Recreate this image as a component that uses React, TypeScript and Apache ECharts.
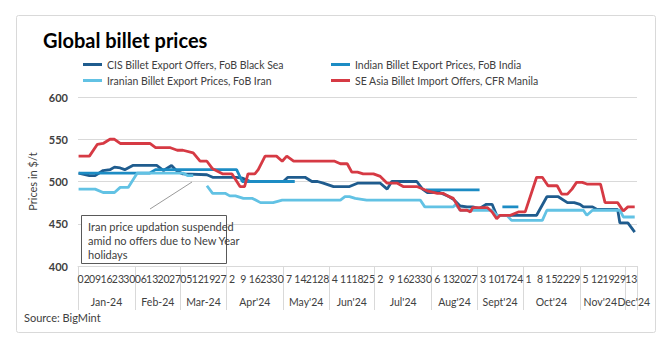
import React, { useEffect, useRef } from 'react';
import * as echarts from 'echarts';

// ---- data ----
const weekLabels = ['02','09','16','23','30','06','13','20','27','05','12','19','27','2','9','16','23','30','7','14','21','28','4','11','18','25','2','9','16','23','30','6','13','20','27','3','10','17','24','1','8','15','22','29','5','12','19','29','13'];
const monthLabels = ['Jan-24','Feb-24','Mar-24',"Apr'24","May'24","Jun'24","Jul'24","Aug'24","Sept'24","Oct'24","Nov'24","Dec'24"];
const monthWeekCounts = [5,4,4,5,4,4,5,4,4,5,4,1];

const yTicks = [400, 450, 500, 550, 600];

const seriesNames = [
  'CIS Billet Export Offers, FoB Black Sea',
  'Indian Billet Export Prices, FoB India',
  'Iranian Billet Export Prices, FoB Iran',
  'SE Asia Billet Import Offers, CFR Manila',
];
const seriesColors = ['#1f5c8e', '#1c8cc4', '#62c2e4', '#d63a44'];

// [week position, price]
const cisData = [[-0.45,510],[0.5,507],[1.0,507],[1.7,513],[2.3,514],[2.7,517],[3.2,516],[3.6,514],[4.3,519],[6.4,519],[7.0,513],[7.7,519],[8.2,512],[8.7,509],[10.8,508],[11.3,505],[13.4,505],[13.9,504],[14.6,500],[17.5,500],[17.9,505],[19.4,505],[20.0,500],[20.5,500],[21.0,498],[21.9,494],[23.3,494],[24.0,498],[26.0,498],[26.6,491],[27.0,500],[29.2,500],[29.7,491],[30.1,487],[31.2,487],[31.9,483],[32.4,479],[33.0,471],[33.6,470],[34.1,470],[34.7,468],[35.3,473],[35.8,473],[36.2,460],[39.7,460],[40.6,482],[41.6,482],[42.4,475],[43.0,475],[43.5,473],[43.8,470],[44.6,470],[45.0,467],[46.8,467],[47.0,451],[47.7,451],[48.3,440]];
const indianData = [[-0.45,510],[5.8,510],[6.3,514],[13.4,514],[13.9,500],[18.5,500],[18.6,null],[30.0,490],[34.7,490],[34.8,null],[36.7,470],[38.1,470]];
const iranData = [[-0.45,491],[1.0,491],[1.7,487],[2.7,487],[3.2,493],[3.9,493],[4.7,510],[8.7,510],[9.1,507],[9.6,507],[9.7,null],[10.8,495],[11.3,486],[12.4,486],[12.8,483],[13.3,483],[14.0,480],[14.8,480],[15.5,475],[16.6,475],[17.4,478],[22.5,478],[22.9,482],[23.3,482],[23.8,480],[24.8,478],[29.5,478],[29.9,470],[32.4,470],[32.6,473],[33.0,466],[35.8,466],[36.2,460],[37.1,460],[37.5,454],[40.2,454],[40.6,466],[43.8,466],[44.1,460],[44.6,466],[47.0,466],[47.3,458],[48.3,458]];
const seAsiaData = [[-0.45,530],[0.5,530],[1.2,544],[1.7,545],[2.3,550],[2.7,550],[3.2,545],[5.8,545],[6.3,540],[7.6,540],[8.2,537],[8.7,537],[9.6,534],[10.2,524],[10.8,524],[11.3,515],[12.2,509],[13.0,509],[13.7,494],[14.1,494],[14.4,509],[15.0,509],[15.3,514],[15.9,530],[16.9,530],[17.4,524],[17.8,530],[18.4,524],[22.0,524],[22.5,521],[23.1,521],[23.5,511],[24.0,511],[24.5,509],[25.4,509],[26.0,506],[26.6,498],[27.5,498],[28.0,494],[29.2,494],[30.1,489],[31.0,486],[31.5,486],[31.9,483],[32.4,480],[33.0,466],[33.6,466],[33.9,464],[34.1,469],[35.4,469],[35.8,464],[36.2,456],[36.5,460],[37.4,460],[38.1,464],[38.7,464],[39.7,505],[40.2,505],[40.7,495],[41.5,495],[41.9,485],[42.4,485],[42.8,491],[43.2,499],[43.7,499],[44.1,497],[45.3,497],[45.7,475],[46.8,475],[47.3,465],[47.7,470],[48.3,470]];
const allData = [cisData, indianData, iranData, seAsiaData];

const titleText = 'Global billet prices';
const yAxisTitle = 'Prices in $/t';
const sourceText = 'Source: BigMint';
const noteText = 'Iran price updation suspended\namid no offers due to New Year\nholidays';

const FONT = "Lato, 'Open Sans', sans-serif";

export default function App() {
  const ref = useRef<HTMLDivElement>(null);
  useEffect(() => {
    if (!ref.current) return;
    const chart = echarts.init(ref.current, undefined, { renderer: 'svg' });

    const nWeeks = weekLabels.length;
    const nHalf = nWeeks * 2;
    const monthCats: string[] = [];
    for (let i = 0; i <= nHalf; i++) monthCats.push(String(i));
    const tickSet = new Set<number>();
    const labelMaps = [new Map<number, string>(), new Map<number, string>()];
    const nMonths = monthLabels.length;
    let s = 0;
    monthWeekCounts.forEach((c, mi) => {
      const e = s + c - 1;
      tickSet.add(2 * s);
      let lbl = monthLabels[mi];
      // last two month labels sit side by side: nudge them apart
      if (mi === nMonths - 2) lbl = lbl + '{sp|}';
      if (mi === nMonths - 1) lbl = '{sp|}' + lbl;
      labelMaps[mi % 2].set(s + e + 1, lbl);
      s = e + 1;
    });
    tickSet.add(nHalf);

    const axisText = { fontFamily: FONT, fontSize: 11, color: '#404040' };

    const monthAxis = (k: number) => ({
      type: 'category', data: monthCats, boundaryGap: false, position: 'bottom',
      axisLine: { show: false },
      axisTick: {
        show: k === 0, length: 44, inside: false,
        interval: (idx: number) => tickSet.has(idx),
        lineStyle: { color: '#d9d9d9' },
      },
      axisLabel: {
        ...axisText, fontSize: 10.5, margin: 30, showMaxLabel: true, showMinLabel: true,
        interval: (idx: number) => labelMaps[k].has(idx),
        formatter: (_v: string, idx: number) => labelMaps[k].get(idx) || '',
        rich: { sp: { width: 5 } },
      },
      splitLine: { show: false },
    });

    const legendBase = {
      orient: 'vertical', top: 58, padding: 0,
      icon: 'rect', itemWidth: 19, itemHeight: 3, itemGap: 3,
      textStyle: { ...axisText, fontSize: 10.5, lineHeight: 13 },
    };

    chart.setOption({
      animation: false,
      backgroundColor: '#ffffff',
      title: {
        text: titleText,
        left: 38,
        top: 25,
        textStyle: { fontFamily: FONT, fontSize: 20, fontWeight: 'bold', color: '#000000' },
      },
      legend: [
        { ...legendBase, data: [seriesNames[0], seriesNames[2]], left: 83 },
        { ...legendBase, data: [seriesNames[1], seriesNames[3]], left: 331 },
      ],
      grid: { left: 78, right: 31, top: 97, bottom: 82, containLabel: false },
      xAxis: [
        { type: 'value', min: -0.5, max: nWeeks - 0.5, show: false },
        {
          type: 'category', data: weekLabels, boundaryGap: true, position: 'bottom',
          axisLine: { show: true, lineStyle: { color: '#d9d9d9' } },
          axisTick: { show: false },
          axisLabel: { ...axisText, fontSize: 10.5, interval: 0, margin: 7 },
          splitLine: { show: false },
        },
        monthAxis(0),
        monthAxis(1),
      ],
      yAxis: {
        type: 'value', min: yTicks[0], max: yTicks[yTicks.length - 1], interval: 50,
        name: yAxisTitle, nameLocation: 'middle', nameGap: 34, nameRotate: 90,
        nameTextStyle: { ...axisText },
        axisLine: { show: false }, axisTick: { show: false },
        axisLabel: { ...axisText, fontWeight: 'bold', margin: 10 },
        splitLine: { lineStyle: { color: '#d9d9d9', width: 1 } },
      },
      series: allData.map((d, i) => ({
        name: seriesNames[i],
        type: 'line',
        xAxisIndex: 0,
        data: d,
        showSymbol: false,
        symbol: 'none',
        connectNulls: false,
        lineStyle: { width: 2.8, color: seriesColors[i] },
        itemStyle: { color: seriesColors[i] },
        z: 2 + i,
      })),
      graphic: [
        {
          type: 'rect', left: 14, top: 13, z: -10, silent: true,
          shape: { width: 639, height: 317, r: 2 },
          style: { fill: 'none', stroke: '#d9d9d9', lineWidth: 1 },
        },
        {
          type: 'text', left: 24, top: 312,
          style: { text: sourceText, fontFamily: FONT, fontSize: 11, fill: '#404040' },
        },
        {
          type: 'line', z: 10,
          shape: { x1: 150, y1: 209, x2: 192, y2: 182 },
          style: { stroke: '#7f7f7f', lineWidth: 0.8 },
        },
        {
          type: 'rect', left: 81, top: 215, z: 10,
          shape: { width: 145, height: 48 },
          style: { fill: '#ffffff', stroke: '#595959', lineWidth: 1 },
        },
        {
          type: 'text', left: 88, top: 219, z: 11,
          style: { text: noteText, fontFamily: FONT, fontSize: 11, lineHeight: 14, fill: '#404040' },
        },
      ],
    });
    return () => chart.dispose();
  }, []);
  return (
    <div
      ref={ref}
      style={{ position: 'fixed', left: 0, top: 0, width: 668, height: 348, background: '#ffffff' }}
    />
  );
}
